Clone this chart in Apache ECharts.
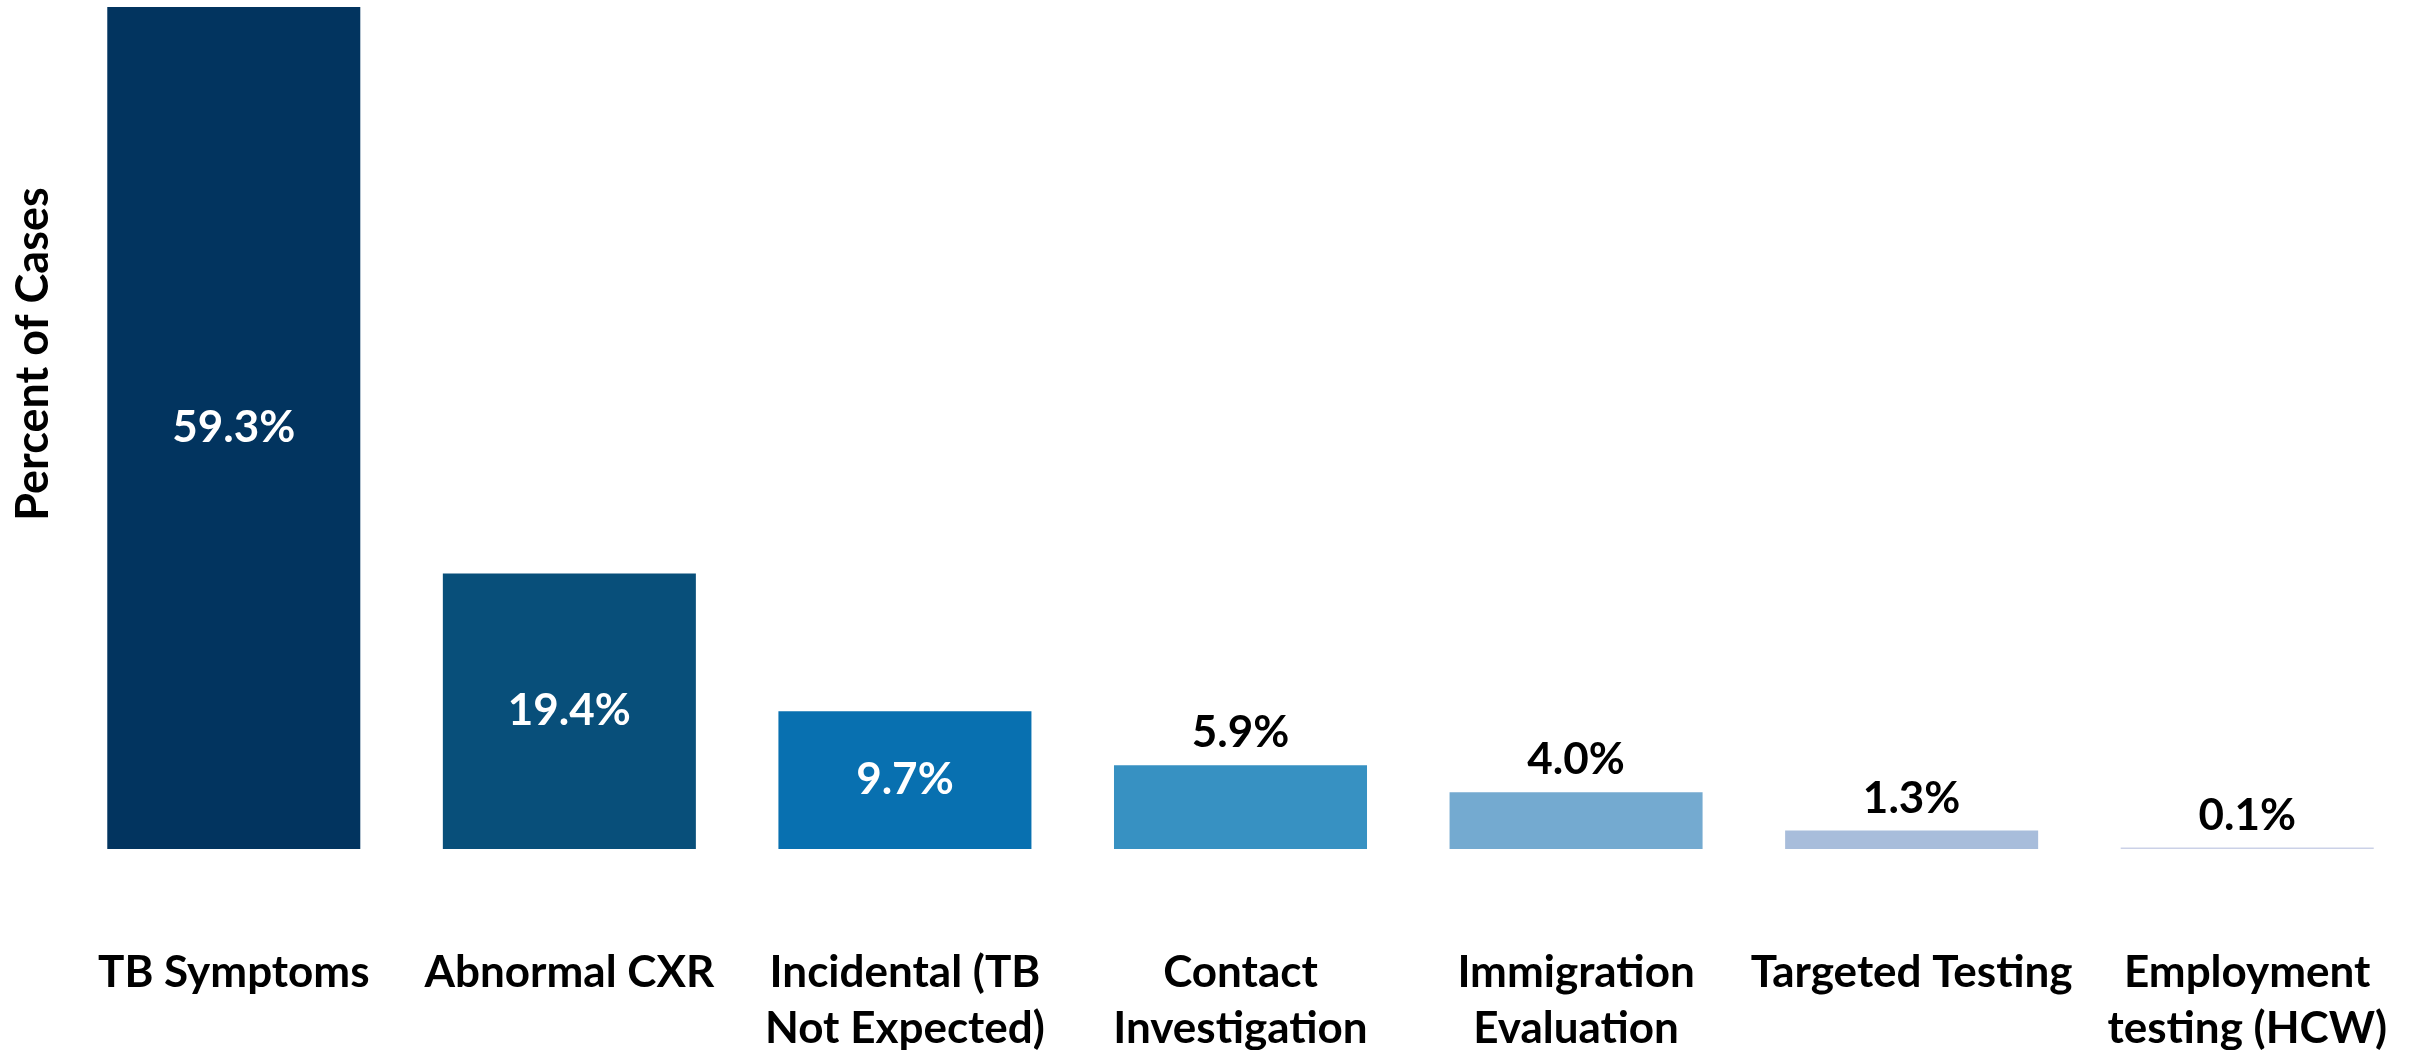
<!DOCTYPE html>
<html>
<head>
<meta charset="utf-8">
<title>Percent of Cases</title>
<script src="https://cdn.jsdelivr.net/npm/echarts@6/dist/echarts.min.js"></script>
<style>
  html, body { margin: 0; padding: 0; background: #fff; }
  #chart { width: 2415px; height: 1050px; }
</style>
</head>
<body>
<div id="chart"></div>
<script>
const categories = [
  'TB Symptoms',
  'Abnormal CXR',
  'Incidental (TB\nNot Expected)',
  'Contact\nInvestigation',
  'Immigration\nEvaluation',
  'Targeted Testing',
  'Employment\ntesting (HCW)'
]
const percents = [59.3, 19.4, 9.7, 5.9, 4.0, 1.3, 0.1]
const axisTitle = 'Percent of Cases'

// styling only
const barColors = ['#02345F', '#084F7A', '#0870B0', '#3791C2', '#74AAD0', '#A8BDDB', '#CBD1E7']
const labelInside = [true, true, true, false, false, false, false]
const font = 'Lato, "Open Sans", sans-serif'

const chart = echarts.init(document.getElementById('chart'))

const seriesData = percents.map((v, i) => ({
  value: v,
  itemStyle: { color: barColors[i] },
  label: labelInside[i]
    ? { position: 'inside', color: '#fff' }
    : { position: 'top', color: '#000', distance: 10 }
}))

chart.setOption({
  animation: false,
  grid: { left: 66, right: 0, top: 7, bottom: 201, outerBoundsMode: 'none' },
  graphic: [{
    type: 'text',
    x: 33,
    y: 354,
    rotation: Math.PI / 2,
    style: {
      text: axisTitle,
      fontFamily: font,
      fontWeight: 'bold',
      fontSize: 45,
      fill: '#000',
      align: 'center',
      verticalAlign: 'middle'
    }
  }],
  xAxis: {
    type: 'category',
    data: categories,
    axisLine: { show: false },
    axisTick: { show: false },
    axisLabel: {
      interval: 0,
      margin: 96,
      color: '#000',
      fontFamily: font,
      fontWeight: 'bold',
      fontSize: 44,
      lineHeight: 56
    }
  },
  yAxis: {
    type: 'value',
    min: 0,
    max: 59.3,
    show: false
  },
  series: [{
    type: 'bar',
    data: seriesData,
    barCategoryGap: '24.6%',
    label: {
      show: true,
      formatter: p => p.value.toFixed(1) + '%',
      fontFamily: font,
      fontWeight: 'bold',
      fontSize: 44
    }
  }]
})
</script>
</body>
</html>
